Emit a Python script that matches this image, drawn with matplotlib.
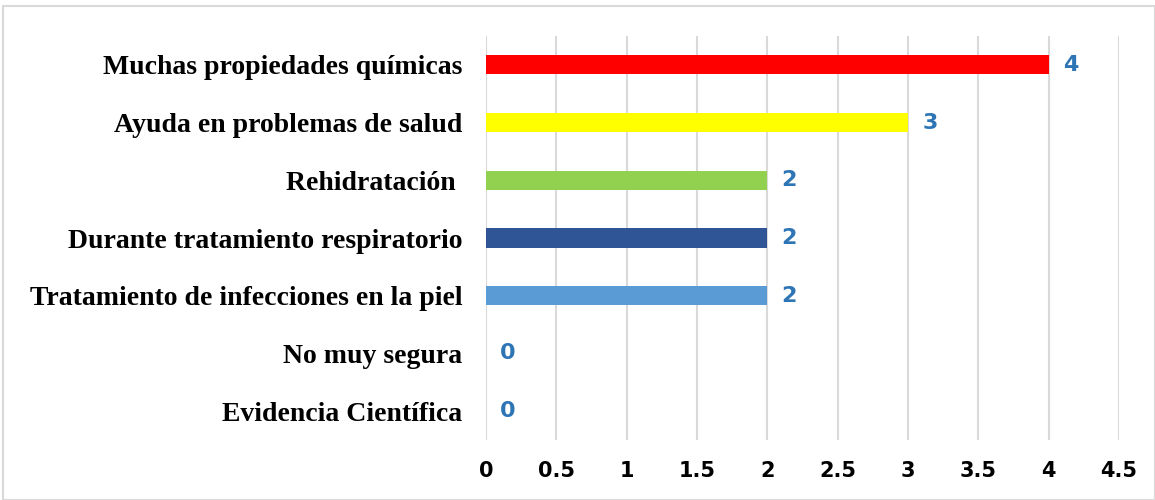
import matplotlib
matplotlib.use("Agg")
import matplotlib.pyplot as plt
from matplotlib.patches import Rectangle

categories = ["Muchas propiedades químicas", "Ayuda en problemas de salud", "Rehidratación ",
              "Durante tratamiento respiratorio", "Tratamiento de infecciones en la piel",
              "No muy segura", "Evidencia Científica"]
values = [4, 3, 2, 2, 2, 0, 0]
colors = ["#FF0000", "#FFFF00", "#92D050", "#2F5597", "#5B9BD5", "#5B9BD5", "#5B9BD5"]
xticks = [0, 0.5, 1, 1.5, 2, 2.5, 3, 3.5, 4, 4.5]
xticklabels = ["0", "0.5", "1", "1.5", "2", "2.5", "3", "3.5", "4", "4.5"]

W, H = 1155, 500
fig = plt.figure(figsize=(W/100, H/100), dpi=100)
fig.patches.append(Rectangle((3/W, 0), 1 - 3/W, 1 - 6/H, transform=fig.transFigure,
                             fill=False, edgecolor="#D9D9D9", linewidth=1.5))
left, right = 486/W, 1119/W
top, bottom = 1 - 36/H, 1 - 440/H
ax = fig.add_axes([left, bottom, right - left, top - bottom])

n = len(categories)
ypos = list(range(n))
ax.barh(ypos, values, height=0.33, color=colors, zorder=3)
ax.set_ylim(n - 0.5, -0.5)
ax.set_xlim(0, 4.5)
ax.set_xticks(xticks)
ax.set_xticklabels(xticklabels, fontsize=15, fontweight="bold", family="DejaVu Sans Condensed")
ax.set_yticks(ypos)
ax.set_yticklabels(categories, fontsize=20, fontweight="bold", family="Liberation Serif")
ax.tick_params(axis="both", length=0)
ax.tick_params(axis="x", pad=15)
ax.tick_params(axis="y", pad=17)
for s in ax.spines.values():
    s.set_visible(False)
ax.grid(axis="x", color="#D9D9D9", linewidth=1.5, zorder=0)
ax.set_axisbelow(True)
for y, v in zip(ypos, values):
    ax.annotate(str(v), (v, y), xytext=(22, 0), textcoords="offset pixels",
                ha="center", va="center", fontsize=16, fontweight="bold",
                color="#2E75B6", family="DejaVu Sans Condensed")
fig.savefig("out.png", dpi=100)
